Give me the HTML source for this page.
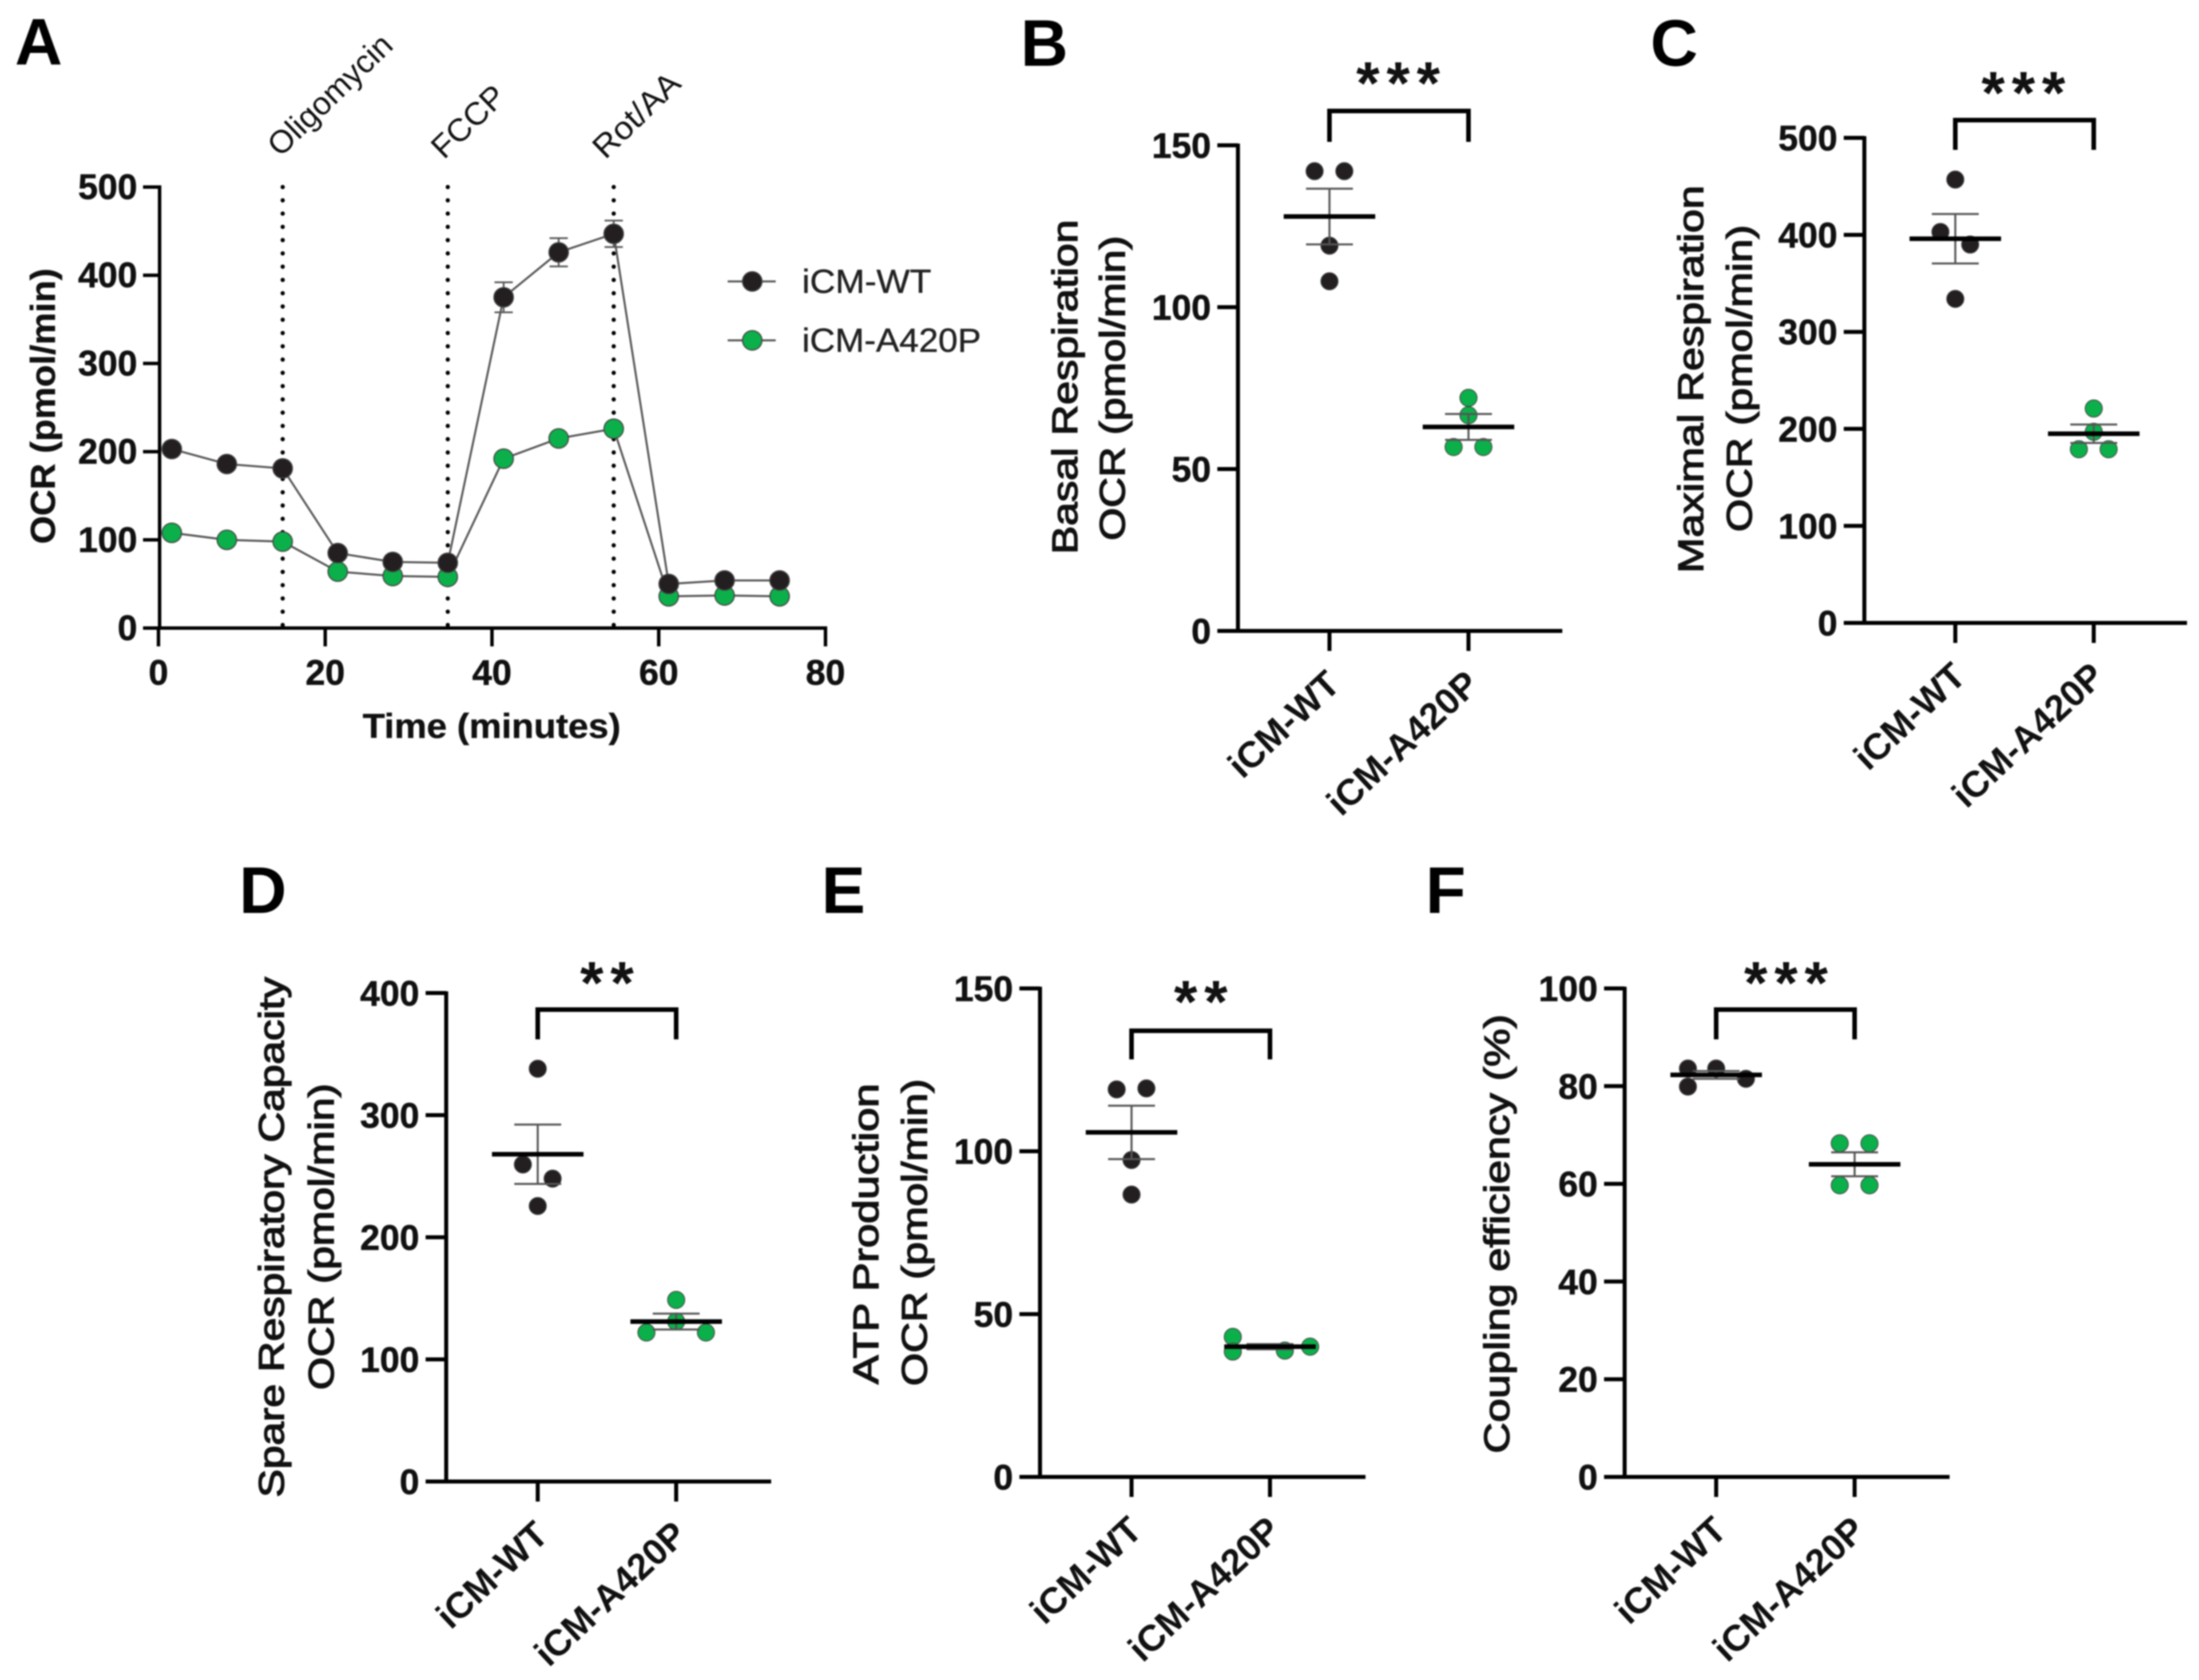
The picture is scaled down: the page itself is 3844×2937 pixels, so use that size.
<!DOCTYPE html>
<html lang="en">
<head>
<meta charset="utf-8">
<title>Mitochondrial respiration iCM-WT vs iCM-A420P</title>
<style>
html,body{margin:0;padding:0;background:#fff;}
svg{display:block;filter:blur(1.2px);}
text{font-family:"Liberation Sans",sans-serif;fill:#111;}
.letter{font-size:115px;font-weight:700;fill:#000;}
.title{font-size:62px;stroke:#111;stroke-width:1.8px;}
.titleb{font-size:60px;font-weight:700;stroke:#111;stroke-width:.6px;}
.num{font-size:62px;font-weight:700;stroke:#111;stroke-width:.8px;}
.cat{font-size:64px;font-weight:700;}
.star{font-size:105px;font-weight:700;letter-spacing:12px;fill:#111;}
.anno{font-size:56px;}
.leg{font-size:58px;stroke:#222;stroke-width:.6px;fill:#222;}
</style>
</head>
<body>
<svg id="figure" xmlns="http://www.w3.org/2000/svg" width="3844" height="2937" viewBox="0 0 3844 2937">
  <rect width="3844" height="2937" fill="#fff"/>

  <text class="letter" x="26" y="113">A</text>
  <text class="letter" x="1784" y="115">B</text>
  <text class="letter" x="2885" y="115">C</text>
  <text class="letter" x="418" y="1596">D</text>
  <text class="letter" x="1436" y="1596">E</text>
  <text class="letter" x="2492" y="1596">F</text>

  <text class="titleb" transform="translate(96,951) rotate(-90)" textLength="482" lengthAdjust="spacingAndGlyphs">OCR (pmol/min)</text>
  <text class="titleb" x="634" y="1290" textLength="451" lengthAdjust="spacingAndGlyphs">Time (minutes)</text>

  <text class="anno" transform="translate(490,276) rotate(-44)" textLength="278" lengthAdjust="spacingAndGlyphs">Oligomycin</text>
  <text class="anno" transform="translate(776,280) rotate(-44)" textLength="155" lengthAdjust="spacingAndGlyphs">FCCP</text>
  <text class="anno" transform="translate(1058,280) rotate(-44)" textLength="188" lengthAdjust="spacingAndGlyphs">Rot/AA</text>

  <g>
    <line x1="1272" x2="1356" y1="492" y2="492" stroke="#555" stroke-width="3.5"/>
    <circle cx="1315" cy="492" r="17" fill="#231f20" stroke="#444" stroke-width="2"/>
    <text class="leg" x="1402" y="512" textLength="226" lengthAdjust="spacingAndGlyphs">iCM-WT</text>
    <line x1="1272" x2="1356" y1="595" y2="595" stroke="#555" stroke-width="3.5"/>
    <circle cx="1315" cy="595" r="17" fill="#0bb04a" stroke="#444" stroke-width="2"/>
    <text class="leg" x="1402" y="615" textLength="313" lengthAdjust="spacingAndGlyphs">iCM-A420P</text>
  </g>

  <text class="title" transform="translate(1883,969) rotate(-90)" textLength="585" lengthAdjust="spacingAndGlyphs">Basal Respiration</text>
  <text class="title" transform="translate(1966,945) rotate(-90)" textLength="533" lengthAdjust="spacingAndGlyphs">OCR (pmol/min)</text>
  <text class="title" transform="translate(2977,1002) rotate(-90)" textLength="678" lengthAdjust="spacingAndGlyphs">Maximal Respiration</text>
  <text class="title" transform="translate(3062,930) rotate(-90)" textLength="537" lengthAdjust="spacingAndGlyphs">OCR (pmol/min)</text>
  <text class="title" transform="translate(496,2618) rotate(-90)" textLength="910" lengthAdjust="spacingAndGlyphs">Spare Respiratory Capacity</text>
  <text class="title" transform="translate(583,2430) rotate(-90)" textLength="536" lengthAdjust="spacingAndGlyphs">OCR (pmol/min)</text>
  <text class="title" transform="translate(1535,2420) rotate(-90)" textLength="526" lengthAdjust="spacingAndGlyphs">ATP Production</text>
  <text class="title" transform="translate(1620,2423) rotate(-90)" textLength="537" lengthAdjust="spacingAndGlyphs">OCR (pmol/min)</text>
  <text class="title" transform="translate(2638,2541) rotate(-90)" textLength="768" lengthAdjust="spacingAndGlyphs">Coupling efficiency (%)</text>

  <text class="star" x="2450" y="181" text-anchor="middle">***</text>
  <text class="star" x="3543" y="198" text-anchor="middle">***</text>
  <text class="star" x="1067" y="1754" text-anchor="middle">**</text>
  <text class="star" x="2105" y="1787" text-anchor="middle">**</text>
  <text class="star" x="3128" y="1754" text-anchor="middle">***</text>

  <path d="M2324 248V194H2567V248" fill="none" stroke="#000" stroke-width="8"/>
  <path d="M3418 262V210H3660V262" fill="none" stroke="#000" stroke-width="8"/>
  <path d="M940 1817V1765H1182V1817" fill="none" stroke="#000" stroke-width="8"/>
  <path d="M1978 1852V1802H2220V1852" fill="none" stroke="#000" stroke-width="8"/>
  <path d="M3000 1817V1765H3242V1817" fill="none" stroke="#000" stroke-width="8"/>
</svg>

<script>
// Panel A data
const timeMinutes = [1.6, 8.2, 14.9, 21.5, 28.1, 34.7, 41.4, 48, 54.6, 61.2, 67.9, 74.5];
const ocrWt = [203, 186, 181, 85, 75, 74, 375, 426, 447, 50, 54, 54];
const ocrWtSem = [4, 4, 4, 3, 3, 3, 17, 16, 15, 3, 3, 3];
const ocrA420p = [108, 100, 98, 64, 59, 58, 192, 215, 226, 36, 37, 36];
const ocrA420pSem = [3, 3, 3, 3, 3, 3, 4, 4, 4, 2, 2, 2];
const injectionTimes = [14.9, 34.7, 54.6];
const timeTicks = [0, 20, 40, 60, 80];
const ocrTicks = [0, 100, 200, 300, 400, 500];

// Scatter panels: shared categories
const categories = ['iCM-WT', 'iCM-A420P'];

// Panel B: basal respiration
const basalTicks = [0, 50, 100, 150];
const basalWt = [142, 142, 119, 108];
const basalWtSwarm = [-1, 1, 0, 0];
const basalA420p = [72, 66.6, 56.8, 56.8];
const basalA420pSwarm = [0, 0, -1, 1];
const basalMeans = [128, 63];
const basalSems = [8.6, 4];

// Panel C: maximal respiration
const maximalTicks = [0, 100, 200, 300, 400, 500];
const maximalWt = [457, 403, 390, 334];
const maximalWtSwarm = [0, -1, 1, 0];
const maximalA420p = [221, 197, 179, 179];
const maximalA420pSwarm = [0, 0, -1, 1];
const maximalMeans = [396, 195];
const maximalSems = [25.5, 9.5];

// Panel D: spare respiratory capacity
const spareTicks = [0, 100, 200, 300, 400];
const spareWt = [338, 259.6, 248, 225.6];
const spareWtSwarm = [0, -1, 1, 0];
const spareA420p = [148.7, 131, 122, 122];
const spareA420pSwarm = [0, 0, -2, 2];
const spareMeans = [268, 131];
const spareSems = [24.3, 6.5];

// Panel E: ATP production
const atpTicks = [0, 50, 100, 150];
const atpWt = [119, 119.3, 97.3, 86.7];
const atpWtSwarm = [-1, 1, 0, 0];
const atpA420p = [43, 38.5, 38.8, 40];
const atpA420pSwarm = [-2.5, -2.5, 1, 2.7];
const atpMeans = [105.8, 40];
const atpSems = [8.2, 0.8];

// Panel F: coupling efficiency
const couplingTicks = [0, 20, 40, 60, 80, 100];
const couplingWt = [83.6, 83.6, 81.5, 79.9];
const couplingWtSwarm = [-1.9, 0, 2, -1.9];
const couplingA420p = [68.3, 68.3, 59.7, 59.7];
const couplingA420pSwarm = [-1, 1, -1, 1];
const couplingMeans = [82.3, 64];
const couplingSems = [0.8, 2.45];

const NS = 'http://www.w3.org/2000/svg';
const figure = document.getElementById('figure');
const BLACK = '#231f20';
const GREEN = '#0bb04a';

function draw(parent, tag, attrs, name, content) {
  const el = document.createElementNS(NS, tag);
  
  
  for (const k in attrs) el.setAttribute(k, attrs[k]);
  if (content !== undefined) el.textContent = content;
  parent.appendChild(el);
  return el;
}

function linear(d0, d1, r0, r1) {
  return function (v) { return r0 + (v - d0) * (r1 - r0) / (d1 - d0); };
}

function drawTimeCourse() {
  const g = draw(figure, 'g', {}, 'panel-a-ocr-time-course');
  const x = linear(0, 80, 277, 1443);
  const y = linear(0, 500, 1098, 327);

  injectionTimes.forEach(function (t) {
    draw(g, 'line', {x1: x(t), x2: x(t), y1: 327, y2: 1098, stroke: '#000', 'stroke-width': 7.5, 'stroke-linecap': 'round', 'stroke-dasharray': '0 23.2'}, 'injection-marker-line');
  });

  draw(g, 'line', {x1: 279, x2: 279, y1: 324, y2: 1101, stroke: '#000', 'stroke-width': 6}, 'a-y-axis');
  draw(g, 'line', {x1: 250, x2: 1446, y1: 1098, y2: 1098, stroke: '#000', 'stroke-width': 6}, 'a-x-axis');
  ocrTicks.forEach(function (t) {
    draw(g, 'line', {x1: 250, x2: 279, y1: y(t), y2: y(t), stroke: '#000', 'stroke-width': 6}, 'a-y-tick');
    draw(g, 'text', {x: 240, y: y(t) + 21, 'text-anchor': 'end', 'class': 'num'}, 'a-y-tick-label', String(t));
  });
  timeTicks.forEach(function (t) {
    draw(g, 'line', {x1: x(t), x2: x(t), y1: 1098, y2: 1130, stroke: '#000', 'stroke-width': 6}, 'a-x-tick');
    draw(g, 'text', {x: x(t), y: 1197, 'text-anchor': 'middle', 'class': 'num'}, 'a-x-tick-label', String(t));
  });

  [[ocrA420p, ocrA420pSem, GREEN, 'a420p'], [ocrWt, ocrWtSem, BLACK, 'wt']].forEach(function (s) {
    const vals = s[0], sems = s[1], fill = s[2], key = s[3];
    const pts = vals.map(function (v, i) { return x(timeMinutes[i]) + ',' + y(v); }).join(' ');
    draw(g, 'polyline', {points: pts, fill: 'none', stroke: '#555', 'stroke-width': 3.5}, 'series-line-' + key);
    vals.forEach(function (v, i) {
      const cx = x(timeMinutes[i]);
      const hi = y(v + sems[i]), lo = y(v - sems[i]);
      draw(g, 'path', {d: 'M' + (cx - 16) + ' ' + hi + 'H' + (cx + 16) + 'M' + (cx - 16) + ' ' + lo + 'H' + (cx + 16) + 'M' + cx + ' ' + hi + 'V' + lo, fill: 'none', stroke: '#555', 'stroke-width': 3}, 'error-bar-' + key);
    });
    vals.forEach(function (v, i) {
      draw(g, 'circle', {cx: x(timeMinutes[i]), cy: y(v), r: 17, fill: fill, stroke: '#444', 'stroke-width': 2}, 'point-' + key);
    });
  });
}

function drawScatter(cfg) {
  const g = draw(figure, 'g', {}, 'panel-' + cfg.key);
  const y = linear(0, cfg.ticks[cfg.ticks.length - 1], cfg.y0, cfg.yTop);
  const sw = 7;

  draw(g, 'line', {x1: cfg.axisX, x2: cfg.axisX, y1: cfg.yTop - 3, y2: cfg.y0 + 3, stroke: '#000', 'stroke-width': sw}, cfg.key + '-y-axis');
  draw(g, 'line', {x1: cfg.axisX - 36, x2: cfg.right, y1: cfg.y0, y2: cfg.y0, stroke: '#000', 'stroke-width': sw}, cfg.key + '-x-axis');
  cfg.ticks.forEach(function (t) {
    draw(g, 'line', {x1: cfg.axisX - 36, x2: cfg.axisX, y1: y(t), y2: y(t), stroke: '#000', 'stroke-width': sw}, cfg.key + '-y-tick');
    draw(g, 'text', {x: cfg.axisX - 47, y: y(t) + 22, 'text-anchor': 'end', 'class': 'num'}, cfg.key + '-y-tick-label', String(t));
  });

  categories.forEach(function (label, c) {
    const cx = cfg.catX[c];
    draw(g, 'line', {x1: cx, x2: cx, y1: cfg.y0, y2: cfg.y0 + 35, stroke: '#000', 'stroke-width': sw}, cfg.key + '-x-tick');
    draw(g, 'text', {transform: 'translate(' + (cx + 22) + ',' + (cfg.y0 + 98) + ') rotate(-43)', 'text-anchor': 'end', 'class': 'cat'}, cfg.key + '-category-label', label);

    const vals = c === 0 ? cfg.wt : cfg.a420p;
    const swarm = c === 0 ? cfg.wtSwarm : cfg.a420pSwarm;
    const fill = c === 0 ? BLACK : GREEN;
    const key = c === 0 ? 'wt' : 'a420p';

    vals.forEach(function (v, i) {
      draw(g, 'circle', {cx: cx + swarm[i] * 26, cy: y(v), r: 15, fill: fill, stroke: '#444', 'stroke-width': 1.5}, cfg.key + '-point-' + key);
    });

    const m = cfg.means[c], s = cfg.sems[c];
    draw(g, 'path', {d: 'M' + (cx - 41) + ' ' + y(m + s) + 'H' + (cx + 41) + 'M' + (cx - 41) + ' ' + y(m - s) + 'H' + (cx + 41) + 'M' + cx + ' ' + y(m + s) + 'V' + y(m - s), fill: 'none', stroke: '#555', 'stroke-width': 3.5}, cfg.key + '-error-bar-' + key);
    draw(g, 'line', {x1: cx - 80, x2: cx + 80, y1: y(m), y2: y(m), stroke: '#000', 'stroke-width': 8}, cfg.key + '-mean-line-' + key);
  });
}

drawTimeCourse();
drawScatter({key: 'b', axisX: 2164, y0: 1103, yTop: 254, right: 2731, catX: [2324, 2567], ticks: basalTicks, wt: basalWt, wtSwarm: basalWtSwarm, a420p: basalA420p, a420pSwarm: basalA420pSwarm, means: basalMeans, sems: basalSems});
drawScatter({key: 'c', axisX: 3259, y0: 1089, yTop: 241, right: 3823, catX: [3418, 3660], ticks: maximalTicks, wt: maximalWt, wtSwarm: maximalWtSwarm, a420p: maximalA420p, a420pSwarm: maximalA420pSwarm, means: maximalMeans, sems: maximalSems});
drawScatter({key: 'd', axisX: 780, y0: 2590, yTop: 1736, right: 1348, catX: [940, 1182], ticks: spareTicks, wt: spareWt, wtSwarm: spareWtSwarm, a420p: spareA420p, a420pSwarm: spareA420pSwarm, means: spareMeans, sems: spareSems});
drawScatter({key: 'e', axisX: 1818, y0: 2582, yTop: 1728, right: 2387, catX: [1978, 2220], ticks: atpTicks, wt: atpWt, wtSwarm: atpWtSwarm, a420p: atpA420p, a420pSwarm: atpA420pSwarm, means: atpMeans, sems: atpSems});
drawScatter({key: 'f', axisX: 2840, y0: 2582, yTop: 1728, right: 3408, catX: [3000, 3242], ticks: couplingTicks, wt: couplingWt, wtSwarm: couplingWtSwarm, a420p: couplingA420p, a420pSwarm: couplingA420pSwarm, means: couplingMeans, sems: couplingSems});
</script>
</body>
</html>
